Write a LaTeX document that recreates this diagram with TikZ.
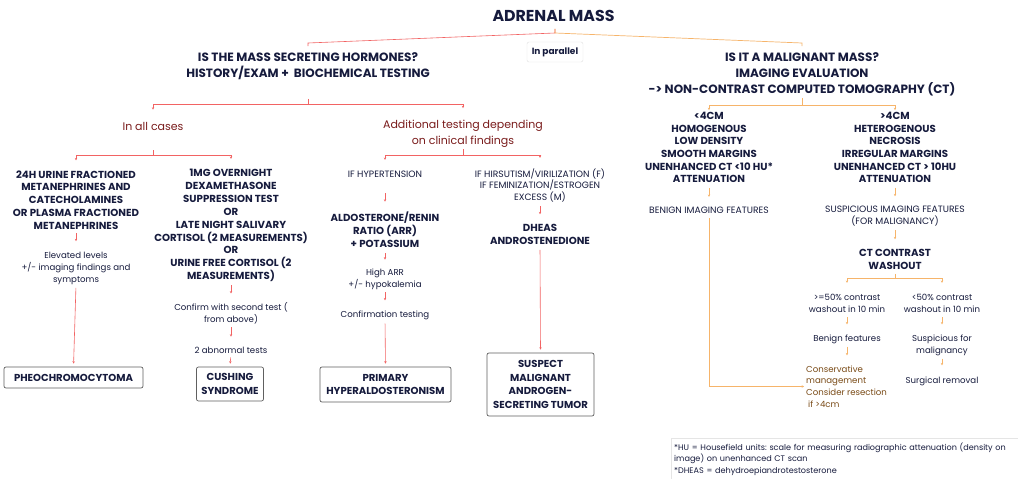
\documentclass[tikz,border=0pt]{standalone}
\usepackage{fontspec}
\setmainfont{Poppins}
\usetikzlibrary{arrows.meta}
\definecolor{ink}{HTML}{161B3D}
\definecolor{redln}{HTML}{F26363}
\definecolor{orgln}{HTML}{F6B46A}
\definecolor{maroon}{HTML}{7A1C1C}
\definecolor{umber}{HTML}{7A4B17}
\frenchspacing
\begin{document}
\begin{tikzpicture}[x=1pt,y=-1pt,
  every node/.style={text=ink, inner sep=0pt, align=center},
  ttl/.style={font=\bfseries\fontsize{15.8}{18}\selectfont},
  hd/.style={font=\bfseries\fontsize{12}{16}\selectfont},
  sub/.style={font=\fontsize{11}{16}\selectfont, text=maroon},
  bt/.style={font=\bfseries\fontsize{10.2}{12.8}\selectfont},
  ct/.style={font=\fontsize{8.6}{11.8}\selectfont},
  cp/.style={font=\fontsize{9.2}{11.7}\selectfont},
  res/.style={font=\bfseries\fontsize{10.1}{13.8}\selectfont, draw=gray!75!black, line width=0.7pt, rounded corners=2pt},
  rl/.style={draw=redln, line width=0.6pt},
  ol/.style={draw=orgln, line width=0.7pt},
  ra/.style={rl, -{Stealth[length=2.4pt,width=2.4pt]}},
  oa/.style={ol, -{Stealth[length=2.4pt,width=2.4pt]}}]
\fill[white] (0,0) rectangle (1018,479);
\useasboundingbox (0,0) rectangle (1018,479);
\node[ttl] (title) at (553.5,16) {ADRENAL MASS};
\node[draw=black!12, rounded corners=2pt, font=\bfseries\fontsize{9}{10}\selectfont, minimum width=56, minimum height=20] (para) at (555,52) {In parallel};
\node[hd] (hormq) at (308,66) {IS THE MASS SECRETING HORMONES?\\HISTORY/EXAM +\ \ BIOCHEMICAL TESTING};
\node[hd] (malq) at (802,74) {IS IT A MALIGNANT MASS?\\IMAGING EVALUATION\\-> NON-CONTRAST COMPUTED TOMOGRAPHY (CT)};
\node[sub] (allc) at (153,126) {In all cases};
\node[sub] (addt) at (463,134) {Additional testing depending\\on clinical findings};
\node[bt] (urine) at (76,200) {24H URINE FRACTIONED\\METANEPHRINES AND\\CATECHOLAMINES\\OR PLASMA FRACTIONED\\METANEPHRINES};
\node[ct] (elev) at (76,268.5) {Elevated levels\\+/- imaging findings and\\symptoms};
\node[res, minimum width=139, minimum height=21] (pheo) at (73.5,377.5) {PHEOCHROMOCYTOMA};
\node[bt, font=\bfseries\fontsize{10.2}{12.9}\selectfont] (dex) at (231,225.5) {1MG OVERNIGHT\\DEXAMETHASONE\\SUPPRESSION TEST\\OR\\LATE NIGHT SALIVARY\\CORTISOL (2 MEASUREMENTS)\\OR\\URINE FREE CORTISOL (2\\MEASUREMENTS)};
\node[ct] (conf) at (231,313) {Confirm with second test (\\from above)};
\node[ct] (abn) at (231,350) {2 abnormal tests};
\node[res, minimum width=67, minimum height=34] (cush) at (230,384) {CUSHING\\SYNDROME};
\node[cp] (hyp) at (385,174) {IF HYPERTENSION};
\node[bt] (aldo) at (385,229.5) {ALDOSTERONE/RENIN\\RATIO (ARR)\\+ POTASSIUM};
\node[ct] (harr) at (385,279) {High ARR\\+/- hypokalemia};
\node[ct] (ctest) at (385,315) {Confirmation testing};
\node[res, minimum width=131, minimum height=35] (prim) at (385.5,384.5) {PRIMARY\\HYPERALDOSTERONISM};
\node[cp] (hirs) at (540,185.5) {IF HIRSUTISM/VIRILIZATION (F)\\IF FEMINIZATION/ESTROGEN\\EXCESS (M)};
\node[bt] (dheas) at (540,234.5) {DHEAS\\ANDROSTENEDIONE};
\node[res, minimum width=107, minimum height=63] (susp) at (540.5,384.5) {SUSPECT\\MALIGNANT\\ANDROGEN-\\SECRETING TUMOR};
\node[bt, font=\bfseries\fontsize{10.2}{12.6}\selectfont] (small) at (709,147.5) {<4CM\\HOMOGENOUS\\LOW DENSITY\\SMOOTH MARGINS\\UNENHANCED CT <10 HU*\\ATTENUATION};
\node[bt, font=\bfseries\fontsize{10.2}{12.6}\selectfont] (large) at (895,147.5) {>4CM\\HETEROGENOUS\\NECROSIS\\IRREGULAR MARGINS\\UNENHANCED CT > 10HU\\ATTENUATION};
\node[cp] (benign) at (709,210) {BENIGN IMAGING FEATURES};
\node[cp] (suspi) at (895,216) {SUSPICIOUS IMAGING FEATURES\\(FOR MALIGNANCY)};
\node[bt] (ctw) at (895,259.5) {CT CONTRAST\\WASHOUT};
\node[ct] (w50) at (847,303) {>=50\% contrast\\washout in 10 min};
\node[ct] (wl50) at (942,303) {<50\% contrast\\washout in 10 min};
\node[ct] (bfeat) at (847,339) {Benign features};
\node[ct] (sfm) at (942,345) {Suspicious for\\malignancy};
\node[ct, text=umber, anchor=west, align=left] (cons) at (806,386.5) {Conservative\\management\\Consider resection\\\hspace{2pt}if >4cm};
\node[ct] (surg) at (942,381) {Surgical removal};
\node[draw=black!10, anchor=north west, text width=342, minimum height=42, inner xsep=3, align=left, font=\fontsize{8.1}{11.8}\selectfont] (foot) at (671,438) {*HU = Housefield units: scale for measuring radiographic attenuation (density on\\image) on unenhanced CT scan\\{*}DHEAS = dehydroepiandrotestosterone};
\coordinate (tsplit) at (555,33);
\coordinate (hbend) at (308,43);
\coordinate (mbend) at (802,43);
\draw[rl, shorten <=7, shorten >=6] (tsplit |- title.south) -- (tsplit) -- (hbend) -- (hormq.north);
\draw[ol, shorten <=7, shorten >=6] (tsplit |- title.south) -- (tsplit) -- (mbend) -- (malq.north);
\coordinate (hs) at (308,104);
\draw[rl, shorten <=19] (hormq.south) -- (hs);
\draw[ra, shorten >=12] (hs) -| (allc.north);
\draw[ra, shorten >=12] (hs) -| (addt.north);
\coordinate (as) at (153,155);
\draw[rl, shorten <=20] (allc.south) -- (as);
\draw[ra, shorten >=10] (as) -| (urine.north);
\draw[ra, shorten >=10] (as) -| (dex.north);
\coordinate (ds) at (463,155);
\draw[rl, shorten <=1.6] (addt.south) -- (ds);
\draw[ra, shorten >=10.6] (ds) -| (hyp.north);
\draw[ra, shorten >=10.6] (ds) -| (hirs.north);
\draw[ra, shorten <=3.5, shorten >=11] (urine.south) -- (elev.north);
\draw[ra, shorten <=3, shorten >=3] (elev.south) -- (pheo.north);
\draw[ra, shorten <=3, shorten >=8.6] (dex.south) -- (conf.north);
\draw[ra, shorten <=3.3, shorten >=10] (conf.south) -- (abn.north);
\draw[ra, shorten <=4, shorten >=3] (abn.south) -- (cush.north);
\draw[ra, shorten <=15.6, shorten >=10] (hyp.south) -- (aldo.north);
\draw[ra, shorten <=6, shorten >=9] (aldo.south) -- (harr.north);
\draw[ra, shorten <=3, shorten >=10] (harr.south) -- (ctest.north);
\draw[ra, shorten <=4, shorten >=3] (ctest.south) -- (prim.north);
\draw[ra, shorten <=3.6, shorten >=10] (hirs.south) -- (dheas.north);
\draw[ra, shorten <=5, shorten >=3] (dheas.south) -- (susp.north);
\coordinate (ms) at (802,105);
\draw[ol, shorten <=2] (malq.south) -- (ms);
\draw[oa, shorten >=2] (ms) -| (small.north);
\draw[oa, shorten >=2] (ms) -| (large.north);
\draw[oa, shorten <=5, shorten >=9.6] (small.south) -- (benign.north);
\draw[oa, shorten <=5, shorten >=9.6] (large.south) -- (suspi.north);
\draw[oa, shorten <=3.6, shorten >=10] (suspi.south) -- (ctw.north);
\coordinate (cs) at (895,278);
\draw[ol, shorten <=4] (ctw.south) -- (cs);
\draw[oa, shorten >=10.8] (cs) -| (w50.north);
\draw[oa, shorten >=10.8] (cs) -| (wl50.north);
\draw[oa, shorten <=4.8, shorten >=10] (w50.south) -- (bfeat.north);
\draw[oa, shorten <=3, shorten >=10] (bfeat.south) -- (bfeat.south |- cons.north);
\draw[oa, shorten <=4.8, shorten >=10] (wl50.south) -- (sfm.north);
\draw[oa, shorten <=3, shorten >=11] (sfm.south) -- (surg.north);
\draw[oa, shorten <=4.6, shorten >=2] (benign.south) |- (cons.west);
\end{tikzpicture}
\end{document}
